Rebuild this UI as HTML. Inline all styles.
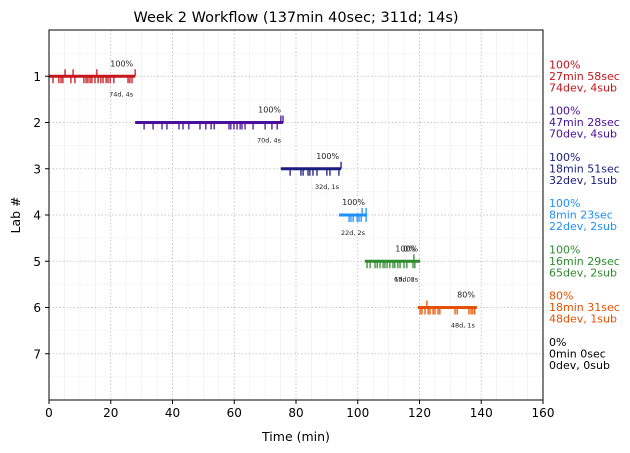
<!DOCTYPE html>
<html><head><meta charset="utf-8"><style>
body{margin:0;background:#fff;font-family:"DejaVu Sans","Liberation Sans",sans-serif}
svg{display:block}
</style></head><body>
<svg id="c" width="630" height="453" xmlns="http://www.w3.org/2000/svg" font-family="DejaVu Sans, Liberation Sans, sans-serif"></svg>
<script>
const labs=[1,2,3,4,5,6,7];
const colors=["#c4161c","#4a0f9a","#1b1d80","#1e90ff","#2e8b2e","#e65100","#000000"];
const starts=[0,27.9,75.1,93.9,102.3,119.5,0];
const ends=[27.9,75.8,94.6,103,120.2,138.6,0];
const pcts=["100%","100%","100%","100%","100%","80%","0%"];
const durs=["27min 58sec","47min 28sec","18min 51sec","8min 23sec","16min 29sec","18min 31sec","0min 0sec"];
const devCounts=[74,70,32,22,65,48,0];
const subCounts=[4,4,1,2,2,1,0];
const devTimes=[
[1.3,3.2,3.9,4.5,7.1,8.4,11.3,12,12.6,13.3,13.9,14.9,15.9,16.8,17.5,18.5,19.1,19.8,21,25.6,26.2,26.9],
[30.8,33.7,36.6,38.2,42.1,43.4,45.3,48.9,50.8,52.5,53.5,58.3,58.9,59.9,60.9,61.9,62.5,63.5,66.1,70,72.2,73.9],
[78.1,81.6,82.3,83.9,84.5,85.5,86.8,90.0,91.0,93.9],
[97.2,97.8,98.5,99.8,100.4,101.1,102.7],
[103,104,105.6,106.3,107.2,108.2,108.8,109.5,110.4,111.4,112,113,113.7,115,115.9,117.9,118.5],
[120.2,120.8,121.8,122.8,123.4,124.4,125,126,126.6,131.5,132.2,136,136.7,137.3,137.9],
[]];
const subTimes=[[5.2,7.8,15.5,27.9],[75.1,75.8],[94.6],[101.4,102.7],[118.2],[122.4],[]];
const xTicks=[0,20,40,60,80,100,120,140,160];

const L=49,R=543,T=30,B=400;
const X=v=>L+(v-0)/160*(R-L);
const Y=v=>T+v/8*(B-T);
const svg=document.getElementById('c');
const NS="http://www.w3.org/2000/svg";
function mk(tag,at,parent){const e=document.createElementNS(NS,tag);for(const k in at)e.setAttribute(k,at[k]);(parent||svg).appendChild(e);return e;}

// minor grid
for(let v=0;v<=160;v+=5){if(v%20){const g=mk('line',{x1:X(v),x2:X(v),y1:T,y2:B,stroke:'#eee','stroke-width':0.6});}}
for(let v=0.5;v<8;v+=0.5){if(v%1){const g=mk('line',{x1:L,x2:R,y1:Y(v),y2:Y(v),stroke:'#eee','stroke-width':0.6});}}
// major grid
xTicks.forEach(v=>{const g=mk('line',{x1:X(v),x2:X(v),y1:T,y2:B,stroke:'#bbb','stroke-width':0.8,'stroke-dasharray':'1.5,2'});});
labs.forEach(v=>{const g=mk('line',{x1:L,x2:R,y1:Y(v),y2:Y(v),stroke:'#bbb','stroke-width':0.8,'stroke-dasharray':'1.5,2'});});

// series
labs.forEach((lab,i)=>{
  const g=mk('g',{});
  
  
  const c=colors[i],y=Y(lab);
  if(ends[i]>starts[i]){
    const bar=mk('line',{x1:X(starts[i]),x2:X(ends[i]),y1:y,y2:y,stroke:c,'stroke-width':3},g);
    
    
    devTimes[i].forEach(t=>{const k=mk('line',{x1:X(t),x2:X(t),y1:y,y2:y+7,stroke:c,'stroke-width':1.3},g);
      });
    subTimes[i].forEach(t=>{const k=mk('line',{x1:X(t),x2:X(t),y1:y-7,y2:y,stroke:c,'stroke-width':1.3},g);
      });
    const p=mk('text',{x:X(ends[i])-2,y:y-10,'font-size':8,'text-anchor':'end',fill:'#222'},g);p.textContent=pcts[i];
    
    const d=mk('text',{x:X(ends[i])-2,y:y+20,'font-size':6.5,'text-anchor':'end',fill:'#222'},g);d.textContent=devCounts[i]+'d, '+subCounts[i]+'s';
    
  }
  const lines=[pcts[i],durs[i],devCounts[i]+'dev, '+subCounts[i]+'sub'];
  lines.forEach((s,j)=>{const t=mk('text',{x:549,y:y-8+(j)*11.5,'font-size':11,fill:c},g);t.textContent=s;
    });
});
// extra overlapping labels in lab 5 (as in reference)
{const y=Y(5);const t=mk('text',{x:X(118.8),y:y-10,'font-size':8,'text-anchor':'end',fill:'#222'});t.textContent='0%';

const u=mk('text',{x:X(118.3),y:y+20,'font-size':6.5,'text-anchor':'end',fill:'#222'});u.textContent='1d, 0s';
}

// axes frame
const fr=mk('rect',{x:L,y:T,width:R-L,height:B-T,fill:'none',stroke:'#000','stroke-width':1});

xTicks.forEach(v=>{mk('line',{x1:X(v),x2:X(v),y1:B,y2:B+4,stroke:'#000'});
  const t=mk('text',{x:X(v),y:B+17,'font-size':12,'text-anchor':'middle'});t.textContent=v;
  });
labs.forEach(v=>{mk('line',{x1:L-4,x2:L,y1:Y(v),y2:Y(v),stroke:'#000'});
  const t=mk('text',{x:L-8,y:Y(v)+4.5,'font-size':12,'text-anchor':'end'});t.textContent=v;
  });
const xt=mk('text',{x:(L+R)/2,y:441,'font-size':12.5,'text-anchor':'middle'});xt.textContent='Time (min)';

const yt=mk('text',{x:20,y:(T+B)/2,'font-size':12.5,'text-anchor':'middle',transform:'rotate(-90 20 '+((T+B)/2)+')'});yt.textContent='Lab #';

const ti=mk('text',{x:(L+R)/2,y:22,'font-size':14.5,'text-anchor':'middle'});ti.textContent='Week 2 Workflow (137min 40sec; 311d; 14s)';

</script>
</body></html>
